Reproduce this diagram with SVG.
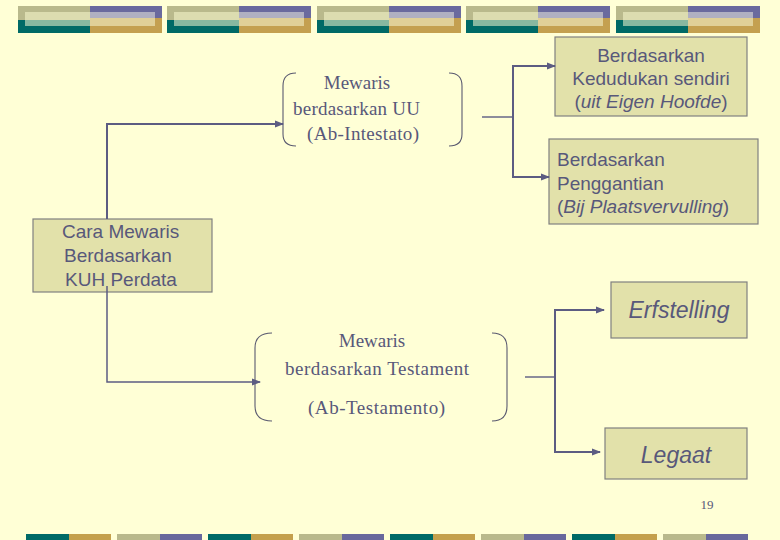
<svg xmlns="http://www.w3.org/2000/svg" width="780" height="540" viewBox="0 0 780 540">
<defs>
<style>
.box{fill:#e2e1aa;stroke:#808080;stroke-width:1.2}
.sans{font-family:"Liberation Sans",Arial,sans-serif;font-size:19px;fill:#58587a}
.serif{font-family:"Liberation Serif","Times New Roman",serif;font-size:19px;fill:#58587a}
.it{font-style:italic}
.ln{fill:none;stroke:#5c5c82;stroke-width:1.4}
.ar{fill:none;stroke:#5c5c82;stroke-width:2;marker-end:url(#ah)}
.ar1{fill:none;stroke:#5c5c82;stroke-width:1.5;marker-end:url(#ah)}
.br{fill:none;stroke:#5a5a70;stroke-width:1.1}
</style>
<marker id="ah" markerUnits="userSpaceOnUse" markerWidth="10" markerHeight="8" refX="8" refY="4" orient="auto">
<path d="M0,0.5 L9,4 L0,7.5 Z" fill="#5c5c82"/>
</marker>
<g id="tb">
<rect x="0" y="0" width="72" height="14" fill="#b9b98c"/>
<rect x="0" y="14" width="72" height="13" fill="#006a66"/>
<rect x="72" y="0" width="72" height="12" fill="#6a6a9e"/>
<rect x="72" y="12" width="72" height="15" fill="#c4a050"/>
<rect x="7" y="6" width="65" height="8" fill="#dcdcb0"/>
<rect x="7" y="14" width="65" height="6" fill="#88b8a0"/>
<rect x="72" y="6" width="65" height="6" fill="#b0b0c2"/>
<rect x="72" y="12" width="65" height="8" fill="#e0d098"/>
</g>
<g id="bb">
<rect x="0" y="0" width="43" height="6" fill="#006a66"/>
<rect x="43" y="0" width="42" height="6" fill="#c4a04c"/>
<rect x="91" y="0" width="43" height="6" fill="#b9b98c"/>
<rect x="134" y="0" width="42" height="6" fill="#68689c"/>
</g>
</defs>
<rect width="780" height="540" fill="#ffffd6"/>
<g id="banner-top">
<use href="#tb" x="18" y="6"/>
<use href="#tb" x="167" y="6"/>
<use href="#tb" x="317" y="6"/>
<use href="#tb" x="466" y="6"/>
<use href="#tb" x="616" y="6"/>
</g>
<g id="banner-bottom">
<use href="#bb" x="26" y="534"/>
<use href="#bb" x="208" y="534"/>
<use href="#bb" x="390" y="534"/>
<use href="#bb" x="572" y="534"/>
</g>
<g id="node-cara">
<rect class="box" x="33" y="219" width="179" height="73"/>
<text class="sans" x="62" y="238">Cara Mewaris</text>
<text class="sans" x="64" y="262">Berdasarkan</text>
<text class="sans" x="65" y="286">KUH Perdata</text>
</g>
<g id="node-uu">
<path class="br" d="M296,73 Q283,73 283,86 V134 Q283,146 296,146"/>
<path class="br" d="M449,73 Q462,73 462,86 V134 Q462,146 449,146"/>
<text class="serif" x="357" y="89" text-anchor="middle">Mewaris</text>
<text class="serif" x="293" y="115" textLength="127">berdasarkan UU</text>
<text class="serif" x="307" y="140" textLength="112">(Ab-Intestato)</text>
</g>
<g id="node-testament">
<path class="br" d="M272,333 Q255,333 255,348 V406 Q255,421 272,421"/>
<path class="br" d="M492,333 Q507,333 507,348 V406 Q507,421 492,421"/>
<text class="serif" x="372" y="347" text-anchor="middle">Mewaris</text>
<text class="serif" x="285" y="375" textLength="184">berdasarkan Testament</text>
<text class="serif" x="308" y="414" textLength="137">(Ab-Testamento)</text>
</g>
<g id="node-eigen">
<rect class="box" x="555" y="37" width="192" height="79"/>
<text class="sans" x="651" y="62" text-anchor="middle">Berdasarkan</text>
<text class="sans" x="651" y="85" text-anchor="middle">Kedudukan sendiri</text>
<text class="sans" x="651" y="108" text-anchor="middle">(<tspan class="it">uit Eigen Hoofde</tspan>)</text>
</g>
<g id="node-pengganti">
<rect class="box" x="549" y="139" width="209" height="85"/>
<text class="sans" x="557" y="166">Berdasarkan</text>
<text class="sans" x="557" y="190">Penggantian</text>
<text class="sans" x="557" y="213">(<tspan class="it">Bij Plaatsvervulling</tspan>)</text>
</g>
<g id="node-erfstelling">
<rect class="box" x="611" y="282" width="136" height="56"/>
<text class="sans it" x="679" y="318" text-anchor="middle" style="font-size:23px">Erfstelling</text>
</g>
<g id="node-legaat">
<rect class="box" x="605" y="428" width="142" height="51"/>
<text class="sans it" x="676" y="463" text-anchor="middle" style="font-size:23px">Legaat</text>
</g>
<g id="connectors">
<path class="ar" d="M107,219 V124 H283"/>
<path class="ar1" d="M107,286 V382 H260"/>
<path class="ln" d="M482,117 H513"/>
<path class="ar" d="M513,117 V66 H555"/>
<path class="ar" d="M513,117 V177 H549"/>
<path class="ln" d="M525,377 H555"/>
<path class="ar" d="M555,377 V310 H604"/>
<path class="ar" d="M555,377 V452 H600"/>
</g>
<text class="serif" x="707" y="509" text-anchor="middle" style="font-size:13px">19</text>
</svg>
